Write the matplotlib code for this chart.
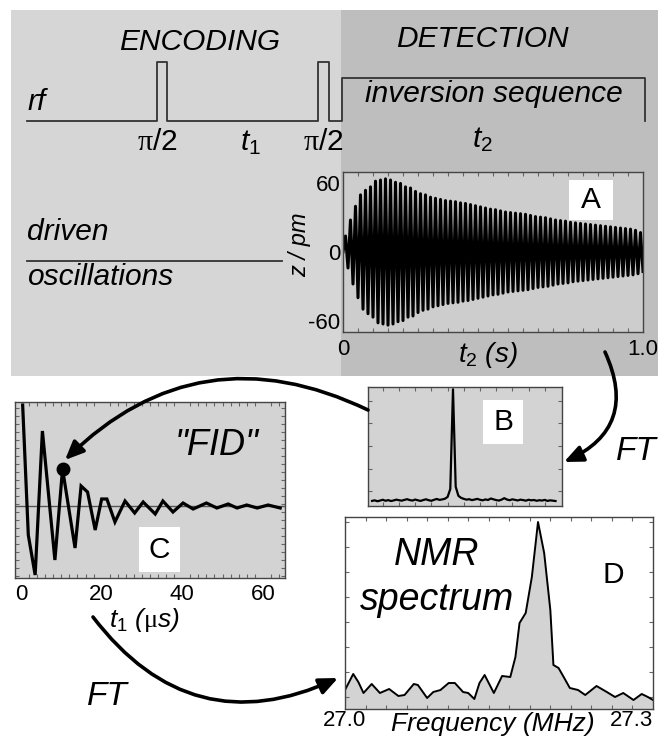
import numpy as np
import matplotlib.pyplot as plt
from matplotlib.patches import Rectangle, FancyArrowPatch

plt.rcParams["font.family"] = ["Liberation Sans", "DejaVu Sans"]
plt.rcParams["mathtext.fontset"] = "custom"
plt.rcParams["mathtext.rm"] = "Liberation Sans"
plt.rcParams["mathtext.it"] = "Liberation Sans:italic"
plt.rcParams["mathtext.sf"] = "Liberation Serif"

# -----------------------------
# Data
# -----------------------------

# A: driven oscillation, peak amplitude of each cycle (pm)
cycle_amp = [14, 28, 40, 50, 54, 57, 62, 63, 64, 63,
             61, 60, 57, 56, 53, 51, 50, 48, 47, 46,
             45, 44.5, 44, 43, 42.5, 41.5, 40.5, 39.5, 38.5, 37.5,
             37, 36, 35, 34.5, 34, 33.5, 33, 32, 31, 30.5,
             30, 29, 28, 27.5, 27, 26, 25.5, 25, 24.5, 24,
             23.5, 23, 22.5, 22, 21.5, 21, 20.5, 20, 19, 17]

# B: spectrum of the detected oscillation (arb. units)
spec_b = [1.5, 2.0, 1.2, 1.8, 2.5, 1.6, 2.2, 1.4, 1.9, 2.6,
          2.1, 1.7, 2.4, 3.0, 2.2, 1.8, 2.7, 2.0, 1.5, 2.3,
          2.9, 2.1, 1.6, 2.5, 3.2, 2.4, 2.8, 3.4, 5.0, 12.0,
          100.0, 14.0, 6.0, 4.2, 3.3, 2.6, 3.0, 2.2, 2.7, 3.3,
          2.5, 2.0, 2.8, 2.3, 3.6, 2.9, 2.2, 1.8, 2.6, 3.9,
          2.7, 2.1, 2.9, 2.4, 1.9, 2.6, 2.2, 1.7, 2.5, 2.0,
          2.3, 1.6, 2.1, 1.8, 2.4, 1.5, 2.0, 1.7, 1.4]

# C: "FID" built from the B peak heights vs t1
fid_t = [0.4, 1.8, 3.5, 5.3, 8.4, 10.3, 13.4, 14.9, 16.5, 18.4,
         20.0, 21.3, 23.3, 25.8, 28.2, 30.3, 33.3, 35.2, 37.7, 40.2,
         42.7, 46.0, 48.6, 51.4, 53.6, 56.0, 58.6, 61.3, 64.3]
fid_v = [101, -29, -69, 75, -54, 37, -42, 20, 14, -24,
         7, 7, -16, 5, -7, 4, -8, 5, -6, 3,
         -3, 3, -2, 2, -2, 1, -2, 1, -2]
marked = 5

# D: NMR spectrum
freq = [27.000, 27.008, 27.013, 27.018, 27.026, 27.034, 27.043, 27.052, 27.058, 27.067,
        27.071, 27.080, 27.086, 27.093, 27.101, 27.107, 27.115, 27.120, 27.126, 27.131,
        27.136, 27.140, 27.145, 27.153, 27.161, 27.166, 27.170, 27.176, 27.182, 27.188,
        27.194, 27.200, 27.203, 27.208, 27.213, 27.219, 27.227, 27.234, 27.245, 27.255,
        27.263, 27.271, 27.281, 27.289, 27.295, 27.300]
nmr = [19, 35, 27, 16, 25, 16, 20, 13, 14, 25,
       24, 11, 17, 19, 26, 26, 17, 16, 10, 26,
       34, 26, 16, 33, 32, 52, 86, 96, 132, 187,
       156, 99, 44, 41, 32, 21, 19, 14, 23, 17,
       12, 16, 9, 15, 12, 9]

# pulse sequence (schematic, pixel units)
rf_x = [27, 157, 157, 167, 167, 318, 318, 329, 329, 342, 342, 645, 645]
rf_y = [121, 121, 62, 62, 121, 121, 62, 62, 121, 121, 78, 78, 121]

# -----------------------------
# Figure
# -----------------------------

W, H = 658, 752
FS = 21.5
TICK_FS = 16
LIGHT = "#d6d6d6"
DARK = "#bebebe"
PANEL = "#d3d3d3"
EDGE = "#444444"

fig = plt.figure(figsize=(W / 100, H / 100), dpi=100)


def px_axes(left, top, right, bottom):
    return fig.add_axes([left / W, 1 - bottom / H, (right - left) / W, (bottom - top) / H])


def overlay():
    ax = px_axes(0, 0, W, H)
    ax.set_xlim(0, W)
    ax.set_ylim(H, 0)
    ax.axis("off")
    ax.patch.set_alpha(0)
    return ax


def frame(ax, face):
    ax.set_facecolor(face)
    for s in ax.spines.values():
        s.set_color(EDGE)
        s.set_linewidth(1.0)
    ax.tick_params(which="major", length=0, labelsize=TICK_FS, colors="black")
    ax.tick_params(which="minor", direction="in", length=3, width=0.8, color="#666666",
                   top=True, right=True)


bg = overlay()
bg.add_patch(Rectangle((11, 10), 330, 366, facecolor=LIGHT, edgecolor="none"))
bg.add_patch(Rectangle((341, 10), 317, 366, facecolor=DARK, edgecolor="none"))

# -----------------------------
# A: detected oscillation
# -----------------------------

axA = px_axes(343, 172, 643, 332)
frame(axA, "#cdcdcd")
n = len(cycle_amp)
t2 = np.linspace(0, 1, 2 * n + 1)
zz = [0]
for a in cycle_amp:
    zz += [a, -a]
axA.plot(t2, zz, color="black", lw=2.2)
axA.set_xlim(0, 1.0)
axA.set_ylim(-70, 70)
axA.set_xticks([0, 1.0], ["0", "1.0"])
axA.set_yticks([-60, 0, 60], ["-60", "0", "60"])
axA.set_xticks(np.arange(0.05, 1.0, 0.05), minor=True)
axA.tick_params(axis="x", pad=5)
axA.tick_params(axis="y", pad=2)
axA.tick_params(which="minor", left=False, right=False)

# -----------------------------
# B: spectrum of detected signal
# -----------------------------

axB = px_axes(368, 387, 562, 506)
frame(axB, PANEL)
axB.plot(np.arange(len(spec_b)), spec_b, color="black", lw=1.6)
axB.set_xlim(-1.5, 70.4)
axB.set_ylim(-3, 102)
axB.set_xticks([])
axB.set_yticks([])
axB.set_xticks(np.arange(4, 70, 6), minor=True)
axB.set_yticks(np.arange(10, 100, 20), minor=True)

# -----------------------------
# C: "FID"
# -----------------------------

axC = px_axes(15, 402, 285, 578)
frame(axC, PANEL)
axC.axhline(0, color="#555555", lw=1.0)
axC.plot(fid_t, fid_v, color="black", lw=2.3, solid_joinstyle="miter")
axC.plot(fid_t[marked], fid_v[marked], "o", color="black", ms=9)
axC.set_xlim(-1.5, 65.5)
axC.set_ylim(-72, 104)
axC.set_xticks([0, 20, 40, 60], ["0", "20", "40", "60"])
axC.set_yticks([])
axC.set_xticks(np.arange(0, 66, 2), minor=True)
axC.set_yticks(np.arange(-70, 104, 8), minor=True)
axC.tick_params(axis="x", pad=4)

# -----------------------------
# D: NMR spectrum
# -----------------------------

axD = px_axes(345, 517, 653, 709)
frame(axD, "white")
axD.fill_between(freq, nmr, 0, color=PANEL, lw=0)
axD.plot(freq, nmr, color="black", lw=1.4)
axD.set_xlim(27.0, 27.3)
axD.set_ylim(0, 192)
axD.set_xticks([27.0, 27.3], ["27.0", "27.3"])
axD.get_xticklabels()[-1].set_horizontalalignment("right")
axD.set_yticks([])
axD.set_xticks(np.arange(27.02, 27.3, 0.02), minor=True)
axD.set_yticks(np.arange(12, 192, 25), minor=True)
axD.tick_params(axis="x", pad=1)

# -----------------------------
# Labels, sequence, arrows
# -----------------------------

top = overlay()
top.set_zorder(10)

top.plot(rf_x, rf_y, color="#333333", lw=1.3)
top.plot([27, 282], [261, 261], color="#333333", lw=1.3)

it = dict(style="italic", fontsize=FS, color="black")
top.text(200, 50, "ENCODING", ha="center", va="baseline", **it)
top.text(482, 47, "DETECTION", ha="center", va="baseline", **it)
top.text(27, 110, "rf", ha="left", va="baseline", **it)
top.text(494, 102, "inversion sequence", ha="center", va="baseline", **it)
top.text(157, 150, r"$\mathsf{\pi}$/2", ha="center", va="baseline", fontsize=FS)
top.text(323, 150, r"$\mathsf{\pi}$/2", ha="center", va="baseline", fontsize=FS)
top.text(250, 150, r"$t_1$", ha="center", va="baseline", fontsize=FS)
top.text(482, 147, r"$t_2$", ha="center", va="baseline", fontsize=FS)
top.text(27, 240, "driven", ha="left", va="baseline", **it)
top.text(27, 285, "oscillations", ha="left", va="baseline", **it)
top.text(300, 245, "z / pm", rotation=90, ha="center", va="center",
         style="italic", fontsize=17)
top.text(488, 362, r"$t_2$ (s)", ha="center", va="baseline", style="italic", fontsize=20)
top.text(144, 627, r"$t_1$ ($\mathsf{\mu}$s)", ha="center", va="baseline",
         style="italic", fontsize=19)
top.text(493, 731, "Frequency (MHz)", ha="center", va="baseline", style="italic", fontsize=19)
top.text(217, 455, '"FID"', ha="center", va="baseline", style="italic", fontsize=26)
top.text(437, 565, "NMR", ha="center", va="baseline", style="italic", fontsize=27)
top.text(437, 610, "spectrum", ha="center", va="baseline", style="italic", fontsize=27)
top.text(636, 460, "FT", ha="center", va="baseline", style="italic", fontsize=24)
top.text(107, 705, "FT", ha="center", va="baseline", style="italic", fontsize=24)

boxes = [("A", 569, 180, 44, 40), ("B", 483, 400, 40, 44), ("C", 139, 527, 41, 45)]
for name, bx, by, bw, bh in boxes:
    top.add_patch(Rectangle((bx, by), bw, bh, facecolor="white", edgecolor="none"))
    top.text(bx + bw / 2, by + bh / 2, name, ha="center", va="center", fontsize=FS)
top.text(613, 575, "D", ha="center", va="center", fontsize=FS)

arrows = [((605, 352), (564, 462), -0.5),
          ((368, 410), (65, 460), 0.35),
          ((93, 617), (338, 678), 0.4)]
for a, b, rad in arrows:
    top.add_patch(FancyArrowPatch(a, b, connectionstyle=f"arc3,rad={rad}",
                                  arrowstyle="-|>,head_length=0.8,head_width=0.35",
                                  mutation_scale=14, lw=2.6, color="black",
                                  shrinkA=0, shrinkB=0))

fig.savefig("out.png", dpi=100)
